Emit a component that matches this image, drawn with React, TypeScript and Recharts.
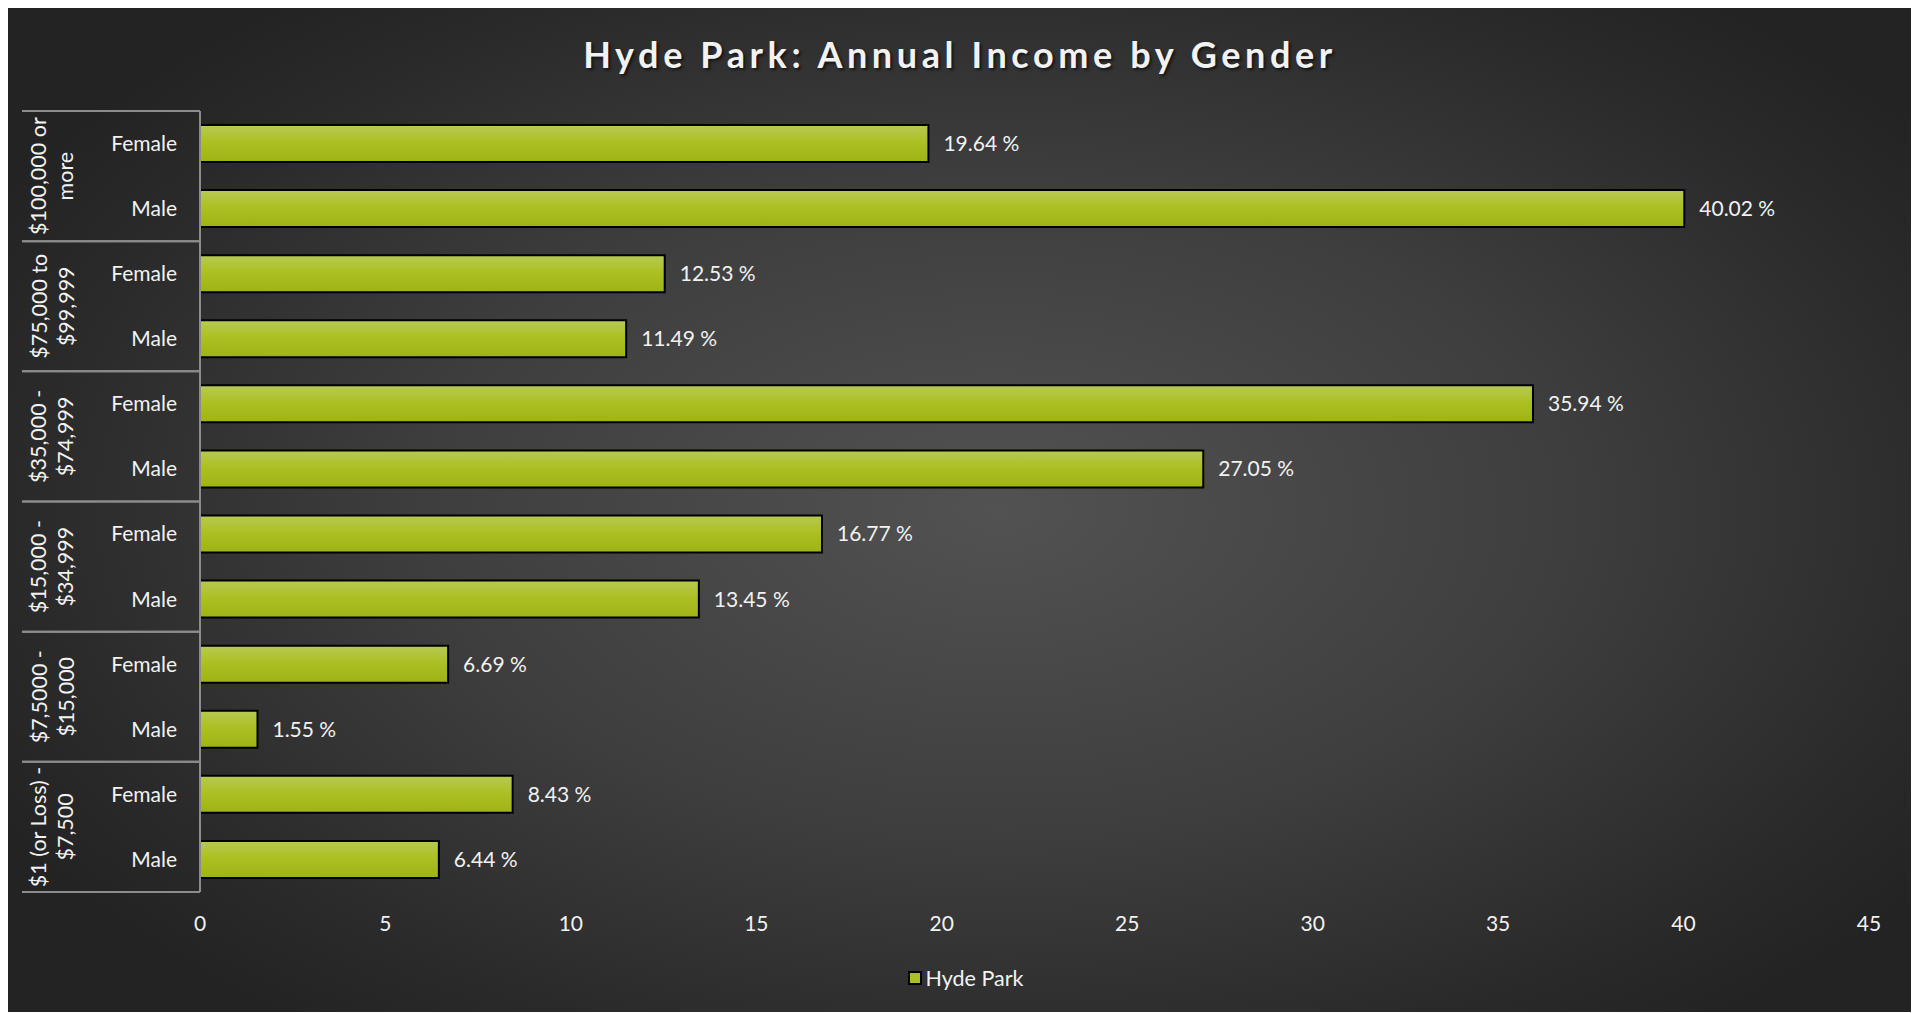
import React from "react";
import { BarChart, Bar, XAxis, YAxis, Legend, LabelList } from "recharts";

// income brackets, top to bottom (line break = second line of the rotated label)
const groups = [
  "$100,000 or\nmore",
  "$75,000 to\n$99,999",
  "$35,000 -\n$74,999",
  "$15,000 -\n$34,999",
  "$7,5000 -\n$15,000",
  "$1 (or Loss) -\n$7,500",
];
const genders = ["Female", "Male"];
const femaleValues = [19.64, 12.53, 35.94, 16.77, 6.69, 8.43];
const maleValues = [40.02, 11.49, 27.05, 13.45, 1.55, 6.44];
const xTicks = [0, 5, 10, 15, 20, 25, 30, 35, 40, 45];
const seriesName = "Hyde Park";
const title = "Hyde Park: Annual Income by Gender";

const W = 1904;
const H = 1004;
const MARGIN = { top: 103, right: 43, left: 14, bottom: 19 };
const GROUP_W = 70;
const GENDER_W = 108;
const FONT = "Lato, 'Open Sans', sans-serif";
const TEXT = "#f2f2f2";
const RULE = "#8c8c8c";

const rows = groups.flatMap((g, i) => [
  { group: g, gender: genders[0], value: femaleValues[i] },
  { group: g, gender: genders[1], value: maleValues[i] },
]);

function GroupTick(props: any) {
  const { y, payload } = props;
  const half = payload.offset ?? 0;
  const lines = String(payload.value).split("\n");
  const left = MARGIN.left;
  const right = MARGIN.left + GROUP_W + GENDER_W;
  const cx = MARGIN.left + 31;
  const lh = 27;
  return (
    <g>
      <line x1={left} x2={right} y1={y - half} y2={y - half} stroke={RULE} strokeWidth={2} />
      <line x1={left} x2={right} y1={y + half} y2={y + half} stroke={RULE} strokeWidth={2} />
      <text
        x={cx}
        y={y}
        transform={`rotate(-90 ${cx} ${y})`}
        textAnchor="middle"
        fill={TEXT}
        fontSize={21.5}
        fontFamily={FONT}
      >
        {lines.map((l, i) => (
          <tspan key={i} x={cx} dy={i === 0 ? -((lines.length - 1) * lh) / 2 + 7 : lh}>
            {l}
          </tspan>
        ))}
      </text>
    </g>
  );
}

function LegendContent() {
  return (
    <div
      style={{
        display: "flex",
        justifyContent: "center",
        alignItems: "center",
        height: 30,
        paddingLeft: 40,
        fontFamily: FONT,
        fontSize: 21.5,
        color: TEXT,
      }}
    >
      <span
        style={{
          width: 10,
          height: 10,
          border: "2px solid #000",
          background: "#abbf22",
          marginRight: 4,
          display: "inline-block",
        }}
      />
      {seriesName}
    </div>
  );
}

export default function App() {
  return (
    <div
      style={{
        position: "relative",
        width: W,
        height: H,
        background:
          "radial-gradient(ellipse 60% 65% at 52% 50%, #525252 0%, #3e3e3e 50%, #2a2a2a 85%, #232323 100%)",
      }}
    >
      <style>{`body{margin:8px;overflow:hidden}`}</style>
      <div
        style={{
          position: "absolute",
          top: 26,
          left: 0,
          width: W,
          height: 40,
          lineHeight: "40px",
          textAlign: "center",
          fontFamily: FONT,
          fontWeight: 700,
          fontSize: 36,
          letterSpacing: 4.6,
          color: TEXT,
          textShadow: "2px 2px 3px rgba(0,0,0,0.6)",
        }}
      >
        {title}
      </div>
      <BarChart width={W} height={H} data={rows} layout="vertical" margin={MARGIN}>
        <defs>
          <linearGradient id="barFill" x1="0" y1="0" x2="0" y2="1">
            <stop offset="0%" stopColor="#b8c955" />
            <stop offset="45%" stopColor="#adc023" />
            <stop offset="100%" stopColor="#a0b315" />
          </linearGradient>
        </defs>
        <XAxis
          type="number"
          domain={[0, 45]}
          ticks={xTicks}
          axisLine={false}
          tickLine={false}
          tickSize={0}
          tickMargin={24}
          height={71}
          tick={{ fill: TEXT, fontSize: 21, fontFamily: FONT }}
        />
        <YAxis
          yAxisId="gender"
          type="category"
          dataKey="gender"
          width={GENDER_W}
          axisLine={{ stroke: RULE, strokeWidth: 2 }}
          tickLine={false}
          tickSize={0}
          tickMargin={23}
          tick={{ fill: TEXT, fontSize: 21, fontFamily: FONT }}
        />
        <YAxis
          yAxisId="group"
          type="category"
          dataKey="group"
          allowDuplicatedCategory={false}
          width={GROUP_W}
          axisLine={false}
          tickLine={false}
          tickSize={0}
          tickMargin={0}
          tick={<GroupTick />}
        />
        <Legend verticalAlign="bottom" height={30} content={<LegendContent />} />
        <Bar
          yAxisId="gender"
          dataKey="value"
          name={seriesName}
          barSize={37}
          fill="url(#barFill)"
          stroke="#000"
          strokeWidth={2}
          isAnimationActive={false}
        >
          <LabelList
            dataKey="value"
            position="right"
            offset={15}
            formatter={(v: any) => `${Number(v).toFixed(2)} %`}
            fill={TEXT}
            fontSize={21}
            fontFamily={FONT}
          />
        </Bar>
      </BarChart>
    </div>
  );
}
